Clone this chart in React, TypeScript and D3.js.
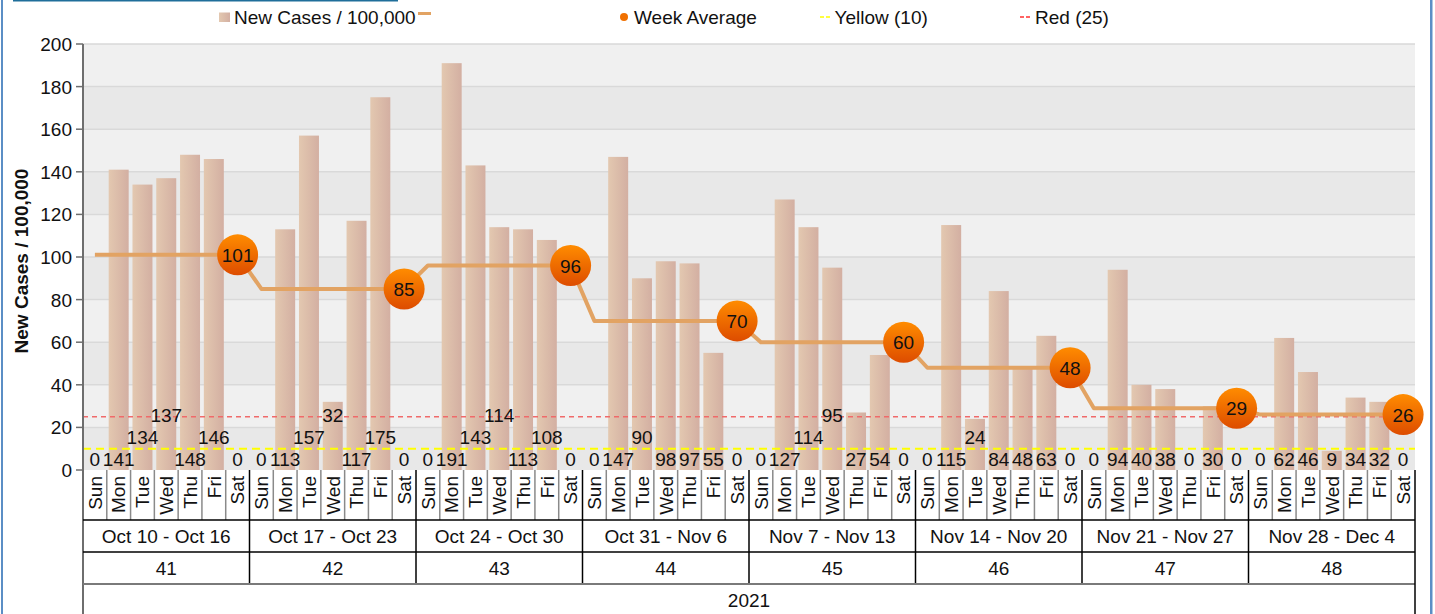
import React from "react";
import * as d3 from "d3";

const dayNames = ["Sun", "Mon", "Tue", "Wed", "Thu", "Fri", "Sat"];
const weekRanges = [
  "Oct 10 - Oct 16",
  "Oct 17 - Oct 23",
  "Oct 24 - Oct 30",
  "Oct 31 - Nov 6",
  "Nov 7 - Nov 13",
  "Nov 14 - Nov 20",
  "Nov 21 - Nov 27",
  "Nov 28 - Dec 4",
];
const weekNumbers = ["41", "42", "43", "44", "45", "46", "47", "48"];
const yearLabel = "2021";
const newCases = [
  0, 141, 134, 137, 148, 146, 0,
  0, 113, 157, 32, 117, 175, 0,
  0, 191, 143, 114, 113, 108, 0,
  0, 147, 90, 98, 97, 55, 0,
  0, 127, 114, 95, 27, 54, 0,
  0, 115, 24, 84, 48, 63, 0,
  0, 94, 40, 38, 0, 30, 0,
  0, 62, 46, 9, 34, 32, 0,
];
const weekAverages = [101, 85, 96, 70, 60, 48, 29, 26];
const yellowLevel = 10;
const redLevel = 25;
const yTicks = [0, 20, 40, 60, 80, 100, 120, 140, 160, 180, 200];
const seriesNames = ["New Cases / 100,000", "Week Average", "Yellow (10)", "Red (25)"];
const yTitle = "New Cases / 100,000";

const W = 1435;
const H = 614;
const FONT = "Arial, 'Liberation Sans', sans-serif";
const FS = 19;

export default function App() {
  const left = 83;
  const right = 1415;
  const x0 = 470;
  const nDays = newCases.length;
  const idx = d3.range(nDays);
  const x = d3.scaleBand<number>().domain(idx).range([left, right]).padding(0);
  const bw = x.bandwidth();
  const barW = bw * 0.84;
  const y = d3.scaleLinear().domain([0, 200]).range([x0, 44]);
  const cx = (i: number) => (x(i) as number) + bw / 2;

  // label levels (simple collision avoidance)
  const digitW = 0.556 * FS;
  const levels: number[] = [];
  let prevRight = -Infinity;
  let prevLevel = 0;
  newCases.forEach((v, i) => {
    const w = String(v).length * digitW;
    const l = cx(i) - w / 2;
    let lvl = 0;
    if (l < prevRight) lvl = (prevLevel + 1) % 3;
    levels.push(lvl);
    prevRight = cx(i) + w / 2;
    prevLevel = lvl;
  });

  const linePts: [number, number][] = [];
  weekAverages.forEach((a, w) => {
    linePts.push([cx(w * 7), y(a)]);
    linePts.push([cx(w * 7 + 6), y(a)]);
  });
  const lineGen = d3.line();

  const bands = d3.range(10);
  const weekX = (w: number) => x(w * 7) as number;

  return (
    <svg width={W} height={H} style={{ position: "absolute", left: 0, top: 0, fontFamily: FONT }}>
      <defs>
        <linearGradient id="barGrad" x1="0" x2="1" y1="0" y2="0">
          <stop offset="0%" stopColor="#e3c8b0" />
          <stop offset="100%" stopColor="#d3afa2" />
        </linearGradient>
        <linearGradient id="mkGrad" x1="0" x2="0" y1="0" y2="1">
          <stop offset="0%" stopColor="#ff8c00" />
          <stop offset="100%" stopColor="#dd4c00" />
        </linearGradient>
      </defs>
      <rect x={0} y={0} width={W} height={H} fill="#ffffff" />
      {/* frame */}
      <rect x={1} y={0} width={2} height={H} fill="#5b8ec5" />
      <rect x={1430} y={0} width={2.5} height={H} fill="#5b8ec5" />
      <rect x={13} y={0} width={385} height={1.5} fill="#1f6e9a" />

      {/* background bands */}
      {bands.map((b) => (
        <rect
          key={"band" + b}
          x={left}
          y={y(b * 20 + 20)}
          width={right - left}
          height={y(b * 20) - y(b * 20 + 20)}
          fill={b % 2 === 0 ? "#e8e8e8" : "#f0f0f0"}
        />
      ))}
      {yTicks.slice(1).map((t) => (
        <line key={"g" + t} x1={left} x2={right} y1={y(t)} y2={y(t)} stroke="#d9d9d9" strokeWidth={1.5} />
      ))}

      {/* bars */}
      {newCases.map((v, i) => (
        <rect
          key={"bar" + i}
          x={cx(i) - barW / 2}
          y={y(v)}
          width={barW}
          height={x0 - y(v)}
          fill="url(#barGrad)"
        />
      ))}

      {/* thresholds */}
      <line x1={left} x2={right} y1={y(yellowLevel)} y2={y(yellowLevel)} stroke="#ffff00" strokeWidth={2} strokeDasharray="8,5" />
      <line x1={left} x2={right} y1={y(redLevel)} y2={y(redLevel)} stroke="#f06a6a" strokeWidth={1.5} strokeDasharray="5,4" />

      {/* value labels */}
      {newCases.map((v, i) => (
        <text
          key={"vl" + i}
          x={cx(i)}
          y={465.5 - levels[i] * 21.7}
          textAnchor="middle"
          fontSize={FS}
          fill="#111"
        >
          {v}
        </text>
      ))}

      {/* week average line */}
      <path d={lineGen(linePts) || ""} fill="none" stroke="#e2a363" strokeWidth={4} strokeLinejoin="round" />
      {weekAverages.map((a, w) => (
        <g key={"mk" + w}>
          <circle cx={cx(w * 7 + 6)} cy={y(a)} r={20.5} fill="url(#mkGrad)" />
          <text x={cx(w * 7 + 6)} y={y(a) + 7} textAnchor="middle" fontSize={FS} fill="#111">
            {a}
          </text>
        </g>
      ))}

      {/* y axis */}
      <line x1={left} x2={left} y1={44} y2={H} stroke="#6e6e6e" strokeWidth={2} />
      {yTicks.map((t) => (
        <g key={"yt" + t}>
          <line x1={76} x2={left} y1={y(t)} y2={y(t)} stroke="#6e6e6e" strokeWidth={1.5} />
          <text x={72} y={y(t) + 7} textAnchor="end" fontSize={FS} fill="#111">
            {t}
          </text>
        </g>
      ))}
      <text
        transform={`translate(27.5,261) rotate(-90)`}
        textAnchor="middle"
        fontSize={19}
        fontWeight="bold"
        fill="#111"
      >
        {yTitle}
      </text>

      {/* category axis */}
      {idx.map((i) => (
        <g key={"day" + i}>
          {i % 7 !== 0 && (
            <line x1={x(i) as number} x2={x(i) as number} y1={x0} y2={520} stroke="#8a8a8a" strokeWidth={1.5} />
          )}
          <text
            transform={`translate(${cx(i) + 6.8},476) rotate(-90)`}
            textAnchor="end"
            fontSize={FS}
            fill="#111"
          >
            {dayNames[i % 7]}
          </text>
        </g>
      ))}
      {weekRanges.map((r, w) => (
        <g key={"wk" + w}>
          {w > 0 && <line x1={weekX(w)} x2={weekX(w)} y1={x0} y2={584} stroke="#000" strokeWidth={1.5} />}
          <text x={weekX(w) + bw * 3.5} y={543} textAnchor="middle" fontSize={FS} fill="#111">
            {r}
          </text>
          <text x={weekX(w) + bw * 3.5} y={575} textAnchor="middle" fontSize={FS} fill="#111">
            {weekNumbers[w]}
          </text>
        </g>
      ))}
      <line x1={left} x2={right} y1={520} y2={520} stroke="#000" strokeWidth={1.5} />
      <line x1={left} x2={right} y1={552} y2={552} stroke="#000" strokeWidth={1.5} />
      <line x1={left} x2={right} y1={584} y2={584} stroke="#7a7a7a" strokeWidth={2} />
      <line x1={right} x2={right} y1={x0} y2={H} stroke="#000" strokeWidth={1.5} />
      <text x={(left + right) / 2} y={606.5} textAnchor="middle" fontSize={FS} fill="#111">
        {yearLabel}
      </text>

      {/* legend */}
      <rect x={219} y={12.5} width={11} height={9.5} fill="url(#barGrad)" />
      <text x={234} y={23.5} fontSize={FS} fill="#111">{seriesNames[0]}</text>
      <line x1={418} x2={431} y1={13.5} y2={13.5} stroke="#e2a363" strokeWidth={3} />
      <circle cx={624} cy={17} r={4} fill="#f07000" />
      <text x={634} y={23.5} fontSize={FS} fill="#111">{seriesNames[1]}</text>
      <line x1={820} x2={831} y1={17} y2={17} stroke="#ffff00" strokeWidth={1.5} strokeDasharray="4,2" />
      <text x={834.5} y={23.5} fontSize={FS} fill="#111">{seriesNames[2]}</text>
      <line x1={1020} x2={1031} y1={17} y2={17} stroke="#ff3030" strokeWidth={1.5} strokeDasharray="4,2" />
      <text x={1035} y={23.5} fontSize={FS} fill="#111">{seriesNames[3]}</text>
    </svg>
  );
}
